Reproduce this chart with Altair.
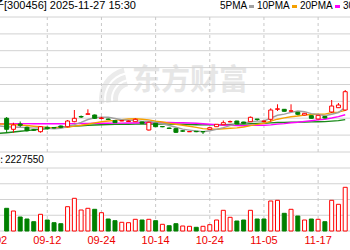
import altair as alt
import pandas as pd

# ---------------- data ----------------
dates = ["09-04", "09-05", "09-08", "09-09", "09-10", "09-11", "09-12", "09-15", "09-16", "09-17",
         "09-18", "09-19", "09-22", "09-23", "09-24", "09-25", "09-26", "09-29", "09-30", "10-09",
         "10-10", "10-13", "10-14", "10-15", "10-16", "10-17", "10-20", "10-21", "10-22", "10-23",
         "10-24", "10-27", "10-28", "10-29", "10-30", "10-31", "11-03", "11-04", "11-05", "11-06",
         "11-07", "11-10", "11-11", "11-12", "11-13", "11-14", "11-17", "11-18", "11-19", "11-20",
         "11-21"]
opens = [27.67, 26.57, 27.10, 26.77, 26.52, 26.33, 26.77, 26.75, 26.90, 26.83,
         27.33, 27.85, 28.07, 28.00, 27.65, 27.60, 27.43, 27.40, 27.35, 27.33,
         27.30, 26.50, 27.17, 26.85, 26.70, 26.63, 26.42, 26.32, 26.37, 26.35,
         26.57, 26.83, 27.03, 27.32, 27.40, 27.30, 27.33, 27.60, 27.35, 27.57,
         28.57, 28.57, 28.38, 28.27, 28.00, 27.93, 27.60, 27.85, 28.30, 28.73,
         28.50]
highs = [27.80, 27.23, 27.35, 26.85, 26.60, 26.90, 26.85, 26.80, 26.95, 27.50,
         28.50, 27.95, 28.57, 28.05, 27.83, 27.65, 27.45, 27.50, 27.45, 27.67,
         27.33, 27.33, 27.20, 26.90, 26.75, 26.68, 26.50, 26.37, 26.40, 26.40,
         26.78, 27.10, 27.45, 27.45, 27.42, 27.32, 27.85, 27.60, 27.43, 28.67,
         29.07, 28.60, 29.07, 28.30, 28.20, 27.95, 28.00, 27.90, 29.50, 29.20,
         30.50]
lows = [26.23, 26.23, 26.80, 26.35, 26.40, 26.23, 26.55, 26.65, 26.70, 26.77,
        27.27, 27.70, 28.03, 27.60, 27.57, 27.50, 27.20, 27.38, 27.33, 27.30,
        27.15, 26.45, 26.80, 26.78, 26.60, 26.20, 26.30, 26.30, 26.28, 26.10,
        26.55, 26.80, 27.00, 27.25, 27.08, 27.15, 27.30, 27.43, 27.27, 27.33,
        28.40, 28.35, 28.30, 27.97, 27.97, 27.65, 27.57, 27.65, 28.20, 28.70,
        28.40]
closes = [26.57, 27.00, 26.97, 26.43, 26.48, 26.83, 26.63, 26.70, 26.77, 27.40,
          27.67, 27.80, 28.12, 27.67, 27.70, 27.55, 27.23, 27.45, 27.40, 27.57,
          27.17, 27.27, 26.83, 26.82, 26.65, 26.27, 26.38, 26.35, 26.33, 26.32,
          26.73, 27.07, 27.23, 27.34, 27.10, 27.17, 27.77, 27.55, 27.40, 28.50,
          28.62, 28.37, 28.42, 28.07, 28.17, 27.67, 27.97, 27.70, 28.90, 29.00,
          30.33]
volumes = [1135000, 1000000, 700000, 600000, 465000, 835000, 550000, 415000, 365000, 1215000,
           1635000, 1050000, 1135000, 1085000, 915000, 600000, 515000, 435000, 415000, 585000,
           550000, 585000, 515000, 335000, 265000, 365000, 250000, 235000, 185000, 235000,
           315000, 550000, 1035000, 685000, 500000, 550000, 1035000, 600000, 600000, 1500000,
           1535000, 885000, 1085000, 750000, 550000, 600000, 585000, 465000, 1535000, 1335000,
           2185000]
vol_up = [0, 1, 0, 0, 0, 1, 0, 0, 0, 1,
          1, 1, 1, 0, 1, 0, 0, 1, 1, 1,
          0, 1, 0, 1, 0, 0, 1, 1, 0, 1,
          1, 1, 1, 1, 0, 0, 1, 0, 0, 1,
          1, 0, 1, 0, 1, 0, 1, 0, 1, 1,
          1]

# moving averages, from index -1 (09-03) to 50 (11-21)
ma_start = -1
ma5 = [26.90, 26.83, 26.80, 26.78, 26.74, 26.69, 26.74, 26.67, 26.61, 26.68,
       26.87, 27.03, 27.27, 27.55, 27.73, 27.79, 27.77, 27.65, 27.52, 27.47,
       27.44, 27.36, 27.37, 27.25, 27.13, 26.95, 26.77, 26.59, 26.49, 26.40,
       26.33, 26.42, 26.56, 26.74, 26.94, 27.09, 27.18, 27.32, 27.39, 27.40,
       27.68, 27.97, 28.09, 28.26, 28.40, 28.33, 28.14, 28.06, 27.92, 28.08,
       28.25, 28.78]
ma10 = [27.10, 27.07, 27.05, 27.00, 26.95, 26.88, 26.82, 26.76, 26.72, 26.74,
        26.78, 26.89, 26.97, 27.08, 27.21, 27.33, 27.40, 27.46, 27.54, 27.60,
        27.62, 27.57, 27.51, 27.38, 27.30, 27.19, 27.07, 26.98, 26.87, 26.76,
        26.64, 26.60, 26.58, 26.62, 26.67, 26.71, 26.80, 26.94, 27.06, 27.17,
        27.39, 27.58, 27.71, 27.82, 27.90, 28.00, 28.05, 28.07, 28.09, 28.24,
        28.29, 28.46]
ma20 = [27.12, 27.13, 27.13, 27.14, 27.14, 27.13, 27.13, 27.12, 27.12, 27.12,
        27.13, 27.14, 27.15, 27.16, 27.17, 27.18, 27.18, 27.19, 27.19, 27.20,
        27.20, 27.23, 27.24, 27.23, 27.25, 27.26, 27.23, 27.22, 27.20, 27.18,
        27.13, 27.08, 27.04, 27.00, 26.98, 26.95, 26.93, 26.96, 26.97, 26.97,
        27.01, 27.09, 27.14, 27.22, 27.28, 27.36, 27.43, 27.51, 27.58, 27.70,
        27.84, 28.02]
ma30 = [26.17, 26.23, 26.30, 26.37, 26.44, 26.51, 26.58, 26.65, 26.72, 26.78,
        26.84, 26.89, 26.93, 26.97, 27.00, 27.02, 27.04, 27.06, 27.07, 27.08,
        27.09, 27.10, 27.10, 27.10, 27.10, 27.09, 27.08, 27.07, 27.05, 27.03,
        27.01, 27.02, 27.02, 27.03, 27.06, 27.08, 27.09, 27.13, 27.16, 27.18,
        27.21, 27.25, 27.26, 27.27, 27.29, 27.30, 27.31, 27.33, 27.34, 27.39,
        27.44, 27.54]

tick_idx = [-2, 6, 14, 22, 30, 38, 46]
tick_labels = ["09-02", "09-12", "09-24", "10-14", "10-24", "11-05", "11-17"]
price_grid = [37.80, 36.11, 34.43, 32.74, 31.05, 29.36, 27.68, 25.99, 24.30]
vol_grid = [0, 787500, 1575000, 2362500, 3150000]

header_name = "赛微电子"
header_info = "[300456]  2025-11-27 15:30"
ma_names = ["5PMA", "10PMA", "20PMA", "30PMA"]
ma_colors = ["#a0a0a0", "#f5a000", "#ff00ff", "#1a8a1a"]
vol_text = "2227550"
watermark = "东方财富"

RED = "#ff0000"
GREEN = "#008000"
FONT = "Liberation Sans"

# ---------------- tables ----------------
candles = pd.DataFrame({"i": list(range(len(dates))), "date": dates, "open": opens,
                        "high": highs, "low": lows, "close": closes})
vol = pd.DataFrame({"i": list(range(len(dates))), "volume": volumes, "up": vol_up})
ticks = pd.DataFrame({"i": tick_idx, "label": tick_labels})
pgrid = pd.DataFrame({"p": price_grid})
vgrid = pd.DataFrame({"v": vol_grid})
one = pd.DataFrame({"a": [0]})

xs = alt.Scale(domain=[-0.244, 49.97], nice=False, zero=False)
ps = alt.Scale(domain=[14.5, 39.5], nice=False, zero=False)
vs = alt.Scale(domain=[-950000, 11550000], nice=False, zero=False)

X = alt.X("i:Q", scale=xs, axis=None)

layers = []

# watermark logo (three light curved bands) and text
for r_in, r_out in [(13, 18), (20, 25), (27, 32)]:
    layers.append(alt.Chart(one).mark_arc(radius=r_out, radius2=r_in, theta=4.55, theta2=6.05,
                                          color="#ebebeb")
                  .encode(x=alt.value(131), y=alt.value(99)))
layers.append(alt.Chart(one).mark_text(text=watermark, font="Noto Sans CJK SC", fontSize=29,
                                       fontWeight="bold", color="#e6e6e6")
              .encode(x=alt.value(190), y=alt.value(81)))

# horizontal grid lines
layers.append(alt.Chart(pgrid).mark_rule(color="#d2d2d2", strokeWidth=1)
              .encode(y=alt.Y("p:Q", scale=ps, axis=None), x=alt.value(0), x2=alt.value(350)))
layers.append(alt.Chart(vgrid).mark_rule(color="#d2d2d2", strokeWidth=1)
              .encode(y=alt.Y("v:Q", scale=vs, axis=None), x=alt.value(0), x2=alt.value(350)))

# vertical dashed grid lines
layers.append(alt.Chart(ticks).mark_rule(color="#c8c8c8", strokeDash=[3, 3], strokeWidth=1)
              .encode(x=X, y=alt.value(17), y2=alt.value(152)))
layers.append(alt.Chart(ticks).mark_rule(color="#c8c8c8", strokeDash=[3, 3], strokeWidth=1)
              .encode(x=X, y=alt.value(168), y2=alt.value(231)))

# moving averages (30 first, 5 on top)
for name, vals, col in reversed(list(zip(ma_names, [ma5, ma10, ma20, ma30], ma_colors))):
    df = pd.DataFrame({"i": list(range(ma_start, ma_start + len(vals))), "m": vals})
    layers.append(alt.Chart(df).mark_line(color=col, strokeWidth=1.4)
                  .encode(x=X, y=alt.Y("m:Q", scale=ps, axis=None)))

up_test = "datum.close >= datum.open"
# wicks
layers.append(alt.Chart(candles).mark_rule(strokeWidth=1)
              .encode(x=X, y=alt.Y("low:Q", scale=ps, axis=None), y2="high:Q",
                      color=alt.condition(up_test, alt.value(RED), alt.value(GREEN))))
# bodies
layers.append(alt.Chart(candles).mark_bar(size=4, strokeWidth=1)
              .encode(x=X, y=alt.Y("open:Q", scale=ps, axis=None), y2="close:Q",
                      fill=alt.condition(up_test, alt.value("white"), alt.value(GREEN)),
                      stroke=alt.condition(up_test, alt.value(RED), alt.value(GREEN))))

# volume bars
layers.append(alt.Chart(vol).mark_bar(size=4, strokeWidth=1)
              .encode(x=X, y=alt.Y("volume:Q", scale=vs, axis=None), y2=alt.datum(0),
                      fill=alt.condition("datum.up == 1", alt.value("white"), alt.value(GREEN)),
                      stroke=alt.condition("datum.up == 1", alt.value(RED), alt.value(GREEN))))

# date labels
layers.append(alt.Chart(ticks).mark_text(font=FONT, fontSize=11, color="#ee0000", baseline="middle")
              .encode(x=X, y=alt.value(241), text="label:N"))

# header texts
layers.append(alt.Chart(one).mark_text(text=header_name, font="Noto Sans CJK SC", fontSize=11,
                                       align="right", baseline="middle", color="#000")
              .encode(x=alt.value(4), y=alt.value(6)))
layers.append(alt.Chart(one).mark_text(text=header_info, font=FONT, fontSize=11,
                                       align="left", baseline="middle", color="#000")
              .encode(x=alt.value(4), y=alt.value(6)))

legend_x = [220, 257, 300, 343]
swatch_x = [249, 292, 335, 378]
for name, lx, sx, col in zip(ma_names, legend_x, swatch_x, ma_colors):
    layers.append(alt.Chart(one).mark_text(text=name, font=FONT, fontSize=10, align="left",
                                           baseline="middle", color="#000")
                  .encode(x=alt.value(lx), y=alt.value(6)))
    layers.append(alt.Chart(one).mark_rule(color=col, strokeWidth=3)
                  .encode(x=alt.value(sx), x2=alt.value(sx + 5), y=alt.value(6.5)))

# volume value
layers.append(alt.Chart(one).mark_text(text="总手:", font="Noto Sans CJK SC", fontSize=10,
                                       align="right", baseline="middle", color="#000")
              .encode(x=alt.value(3), y=alt.value(160)))
layers.append(alt.Chart(one).mark_text(text=vol_text, font=FONT, fontSize=10,
                                       align="left", baseline="middle", color="#000")
              .encode(x=alt.value(5), y=alt.value(160)))

chart = (alt.layer(*layers)
         .resolve_scale(y="independent")
         .properties(width=350, height=250, padding=0, background="white",
                     autosize=alt.AutoSizeParams(type="none"))
         .configure_view(stroke=None))

chart.save("out.html", embed_options={"renderer": "svg", "actions": False})
